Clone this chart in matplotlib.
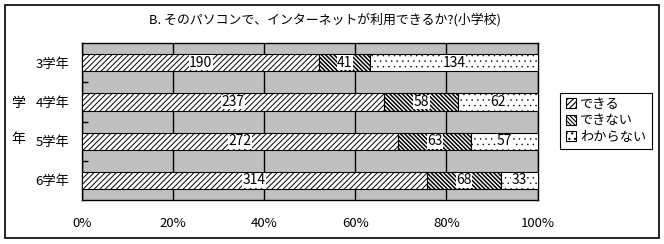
import matplotlib
matplotlib.use("Agg")
import matplotlib.pyplot as plt
from matplotlib.patches import Rectangle

plt.rcParams['font.family'] = ['Noto Sans CJK JP', 'DejaVu Sans']
plt.rcParams['hatch.linewidth'] = 0.8

title = "B. そのパソコンで、インターネットが利用できるか?(小学校)"
grades = ['3学年', '4学年', '5学年', '6学年']
series_names = ['できる', 'できない', 'わからない']
dekiru = [190, 237, 272, 314]
dekinai = [41, 58, 63, 68]
wakaranai = [134, 62, 57, 33]
x_ticks = [0, 20, 40, 60, 80, 100]

series = [dekiru, dekinai, wakaranai]
hatches = ['//////', '\\\\\\\\\\\\\\\\', '...']
hatch_lw = [0.7, 1.1, 0.3]

fig = plt.figure(figsize=(6.64, 2.44), dpi=100)
ax = fig.add_axes([0.1235, 0.180, 0.686, 0.643])
ax.set_facecolor('#c0c0c0')

totals = [sum(v) for v in zip(*series)]
left = [0.0] * len(grades)
ypos = list(range(len(grades)))
for name, vals, h, hl in zip(series_names, series, hatches, hatch_lw):
    pct = [v / t * 100 for v, t in zip(vals, totals)]
    bars = ax.barh(ypos, pct, left=left, height=0.44, color='white', edgecolor='black',
                   hatch=h, linewidth=0.8, label=name, zorder=3)
    for b in bars:
        try:
            b.set_hatch_linewidth(hl)
        except AttributeError:
            pass
    for y, l, p, v in zip(ypos, left, pct, vals):
        ax.text(l + p / 2, y, str(v), ha='center', va='center', fontsize=10,
                zorder=4, bbox=dict(facecolor='white', edgecolor='none', pad=0.3))
    left = [l + p for l, p in zip(left, pct)]

ax.set_xlim(0, 100)
ax.set_ylim(len(grades) - 0.5, -0.5)
ax.set_xticks(x_ticks)
ax.set_xticklabels([f"{t}%" for t in x_ticks], fontsize=9.5)
ax.tick_params(axis='x', length=0, pad=12)
ax.set_yticks(ypos)
ax.set_yticklabels(grades, fontsize=9.5)
ax.tick_params(axis='y', which='major', length=0, pad=9)
ax.set_yticks([0.5, 1.5, 2.5], minor=True)
ax.tick_params(axis='y', which='minor', direction='in', length=4, width=1)
ax.grid(axis='x', color='black', linewidth=1, zorder=1)
ax.set_axisbelow(True)
for s in ax.spines.values():
    s.set_linewidth(1)

fig.text(0.49, 0.92, title, ha='center', va='center', fontsize=9.3)
fig.text(0.028, 0.578, '学', ha='center', va='center', fontsize=10)
fig.text(0.028, 0.43, '年', ha='center', va='center', fontsize=10)

leg = fig.legend(loc='center', bbox_to_anchor=(0.9125, 0.505), fontsize=9.5,
                 handlelength=0.8, handleheight=0.8, handletextpad=0.3,
                 labelspacing=0.25, fancybox=False, framealpha=1,
                 edgecolor='black', borderpad=0.4)
leg.get_frame().set_linewidth(0.8)

fig.patches.append(Rectangle((0.008, 0.025), 0.984, 0.955, transform=fig.transFigure,
                             fill=False, edgecolor='black', linewidth=1.2))

fig.savefig('out.png', dpi=100)
